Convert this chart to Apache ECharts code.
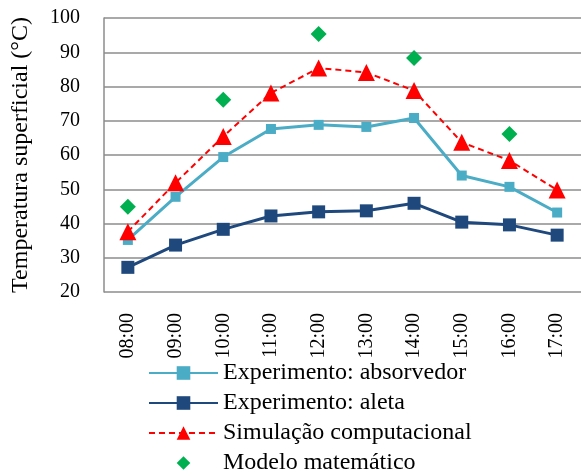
<!DOCTYPE html>
<html>
<head>
<meta charset="utf-8">
<script src="https://cdn.jsdelivr.net/npm/echarts@6/dist/echarts.min.js"></script>
<style>
html, body { margin: 0; padding: 0; background: #fff; }
#chart { width: 581px; height: 476px; }
</style>
</head>
<body>
<div id="chart"></div>
<script>
var hours = ['08:00', '09:00', '10:00', '11:00', '12:00', '13:00', '14:00', '15:00', '16:00', '17:00']
var absorvedor = [35.2, 47.8, 59.4, 67.6, 68.8, 68.2, 70.8, 54.0, 50.7, 43.2]
var aleta = [27.2, 33.7, 38.3, 42.2, 43.4, 43.7, 45.9, 40.4, 39.6, 36.6]
var simulacao = [37.6, 51.9, 65.4, 78.1, 85.4, 84.1, 78.8, 63.7, 58.4, 49.8]
var modelo = [44.9, null, 76.1, null, 95.3, null, 88.3, null, 66.1, null]

var font = 'Liberation Serif, Times New Roman, serif'
var chart = echarts.init(document.getElementById('chart'))
var option = {
  animation: false,
  textStyle: { fontFamily: font },
  grid: {
    left: 104,
    top: 18,
    width: 482,
    height: 274
  },
  legend: {
    orient: 'vertical',
    left: 148,
    top: 361,
    height: 115,
    padding: 0,
    itemWidth: 69,
    itemHeight: 17,
    itemGap: 6,
    textStyle: { fontFamily: font, fontSize: 24, color: '#000' },
    data: ['Experimento: absorvedor', 'Experimento: aleta', 'Simulação computacional', 'Modelo matemático']
  },
  xAxis: {
    type: 'category',
    data: hours,
    boundaryGap: true,
    axisLine: { show: false },
    axisTick: { show: false },
    axisLabel: { rotate: 90, margin: 21, fontSize: 20, color: '#000', fontFamily: font }
  },
  yAxis: {
    type: 'value',
    min: 20,
    max: 100,
    interval: 10,
    name: 'Temperatura superficial (°C)',
    nameLocation: 'middle',
    nameGap: 71,
    nameTextStyle: { fontSize: 24, color: '#000', fontFamily: font },
    axisLine: { show: true, lineStyle: { color: '#8c8c8c', width: 1.5 } },
    axisTick: { show: false },
    axisLabel: { fontSize: 20, color: '#000', margin: 24, fontFamily: font },
    splitLine: { lineStyle: { color: '#8c8c8c', width: 1.5 } }
  },
  series: [{
    name: 'Experimento: absorvedor',
    type: 'line',
    data: absorvedor,
    symbol: 'rect',
    symbolSize: 10,
    itemStyle: { color: '#4bacc6' },
    lineStyle: { color: '#4bacc6', width: 3 },
    z: 3
  }, {
    name: 'Experimento: aleta',
    type: 'line',
    data: aleta,
    symbol: 'rect',
    symbolSize: 13,
    itemStyle: { color: '#1f497d' },
    lineStyle: { color: '#1f497d', width: 3 },
    z: 3
  }, {
    name: 'Simulação computacional',
    type: 'line',
    data: simulacao,
    symbol: 'triangle',
    symbolSize: 17,
    itemStyle: { color: '#ff0000' },
    lineStyle: { color: '#ff0000', width: 2, type: [6, 4] },
    z: 4
  }, {
    name: 'Modelo matemático',
    type: 'line',
    data: modelo,
    symbol: 'path://M0,1L1,0L2,1L1,2Z',
    symbolSize: 16,
    itemStyle: { color: '#00b050' },
    lineStyle: { width: 0, opacity: 0 },
    z: 5
  }]
}
chart.setOption(option)
</script>
</body>
</html>
